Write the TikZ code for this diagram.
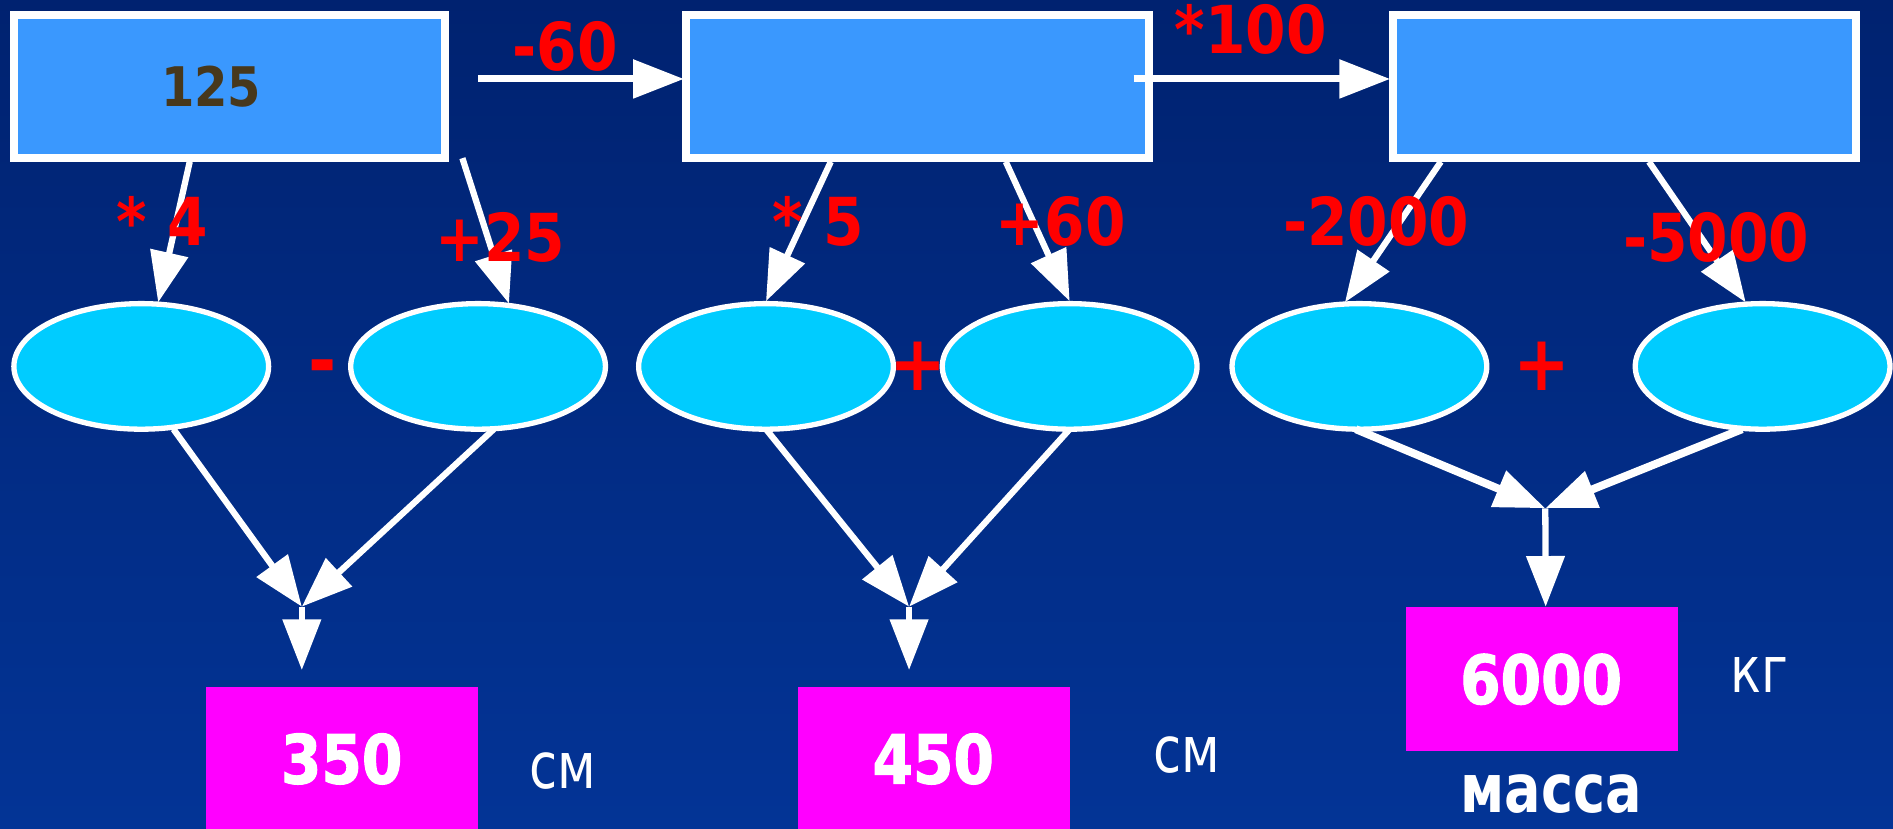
\documentclass[tikz,border=0pt]{standalone}
\usepackage{fontspec}
\setmainfont{DejaVu Sans}
\newfontfamily\numf[FakeStretch=0.88]{DejaVu Sans}
\newfontfamily\resf[FakeStretch=0.86,FakeBold=1.6]{DejaVu Sans}
\newfontfamily\unitf[FakeStretch=0.8]{DejaVu Sans}
\usetikzlibrary{arrows.meta,shapes.geometric,calc}
\definecolor{bgtop}{RGB}{0,34,112}
\definecolor{bgbot}{RGB}{3,52,150}
\definecolor{boxblue}{RGB}{58,152,254}
\definecolor{ellcyan}{RGB}{0,204,255}
\definecolor{mag}{RGB}{255,0,255}
\definecolor{brownt}{RGB}{71,56,28}
\tikzset{
  box/.style={draw=white, line width=3.3pt, fill=boxblue, minimum height=59.25pt, inner sep=0pt, outer sep=0pt},
  oval/.style={ellipse, draw=white, line width=2.2pt, fill=ellcyan, minimum width=105.5pt, minimum height=52pt, inner sep=0pt, outer sep=0pt},
  res/.style={fill=mag, inner sep=0pt, outer sep=0pt},
  lab/.style={text=red, font=\numf\bfseries\fontsize{27.4pt}{30pt}\selectfont, inner sep=0pt, anchor=base},
  op/.style={text=red, font=\numf\bfseries\fontsize{32pt}{34pt}\selectfont, inner sep=0pt},
  resnum/.style={text=white, font=\resf\bfseries\fontsize{28pt}{30pt}\selectfont, inner sep=0pt, anchor=base},
  unit/.style={text=white, font=\unitf\fontsize{26.5pt}{30pt}\selectfont, inner sep=0pt, anchor=base},
  arr/.style={draw=white, line width=2.6pt, -{Triangle[length=21pt,width=15.5pt]}},
}
\begin{document}
\begin{tikzpicture}[x=0.5pt,y=-0.5pt]
\useasboundingbox (0,0) rectangle (1568,686);
\shade[top color=bgtop, bottom color=bgbot] (0,0) rectangle (1568,686);

% top boxes
\node[box, minimum width=178.5pt] (b1) at (190,71.75) {};
\node[box, minimum width=191.75pt] (b2) at (760.25,71.75) {};
\node[box, minimum width=192pt] (b3) at (1345.5,71.75) {};
\node[text=brownt, font=\numf\bfseries\fontsize{22.6pt}{25pt}\selectfont, inner sep=0pt, anchor=base] (t125) at (175,88) {125};

% ellipses
\node[oval] (e1) at (117,303.5) {};
\node[oval] (e2) at (396,303.5) {};
\node[oval] (e3) at (634.5,303.5) {};
\node[oval] (e4) at (886,303.5) {};
\node[oval] (e5) at (1126,303.5) {};
\node[oval] (e6) at (1460,303.5) {};

% result boxes
\node[res, minimum width=112.5pt, minimum height=60.5pt] (r1) at (283.5,629.5) {};
\node[res, minimum width=112.5pt, minimum height=60.5pt] (r2) at (773.5,629.5) {};
\node[res, minimum width=112.3pt, minimum height=59.65pt] (r3) at (1277.3,562.2) {};

% free ends and merge points
\coordinate (s60) at (396,65.4);
\coordinate (s100) at (939,65.4);
\coordinate (s25) at (383,131);
\coordinate (m1) at (250,502.5);
\coordinate (m2) at (753,502.5);
\coordinate (m3) at (1280,421);
\coordinate (d1) at (250,555);
\coordinate (d2) at (753,555);

% horizontal arrows
\draw[arr, line width=2.9pt] (s60) -- ($(b2.west)+(-2,-6.35)$);
\draw[arr, line width=2.9pt] (s100) -- ($(b3.west)+(-2,-6.35)$);

% box -> ellipse arrows
\draw[arr] ($(b1.south west)!0.408!(b1.south east)+(0,3)$) -- ($(e1.north)+(14,-1)$);
\draw[arr] (s25) -- ($(e2.north)+(25.6,0)$);
\draw[arr] ($(b2.south west)!0.312!(b2.south east)+(0,3)$) -- ($(e3.north)+(0,-2)$);
\draw[arr] ($(b2.south west)!0.69!(b2.south east)+(0,3)$) -- ($(e4.north)+(0,-2)$);
\draw[arr] ($(b3.south west)!0.104!(b3.south east)+(0,3)$) -- ($(e5.north)+(-12,-1)$);
\draw[arr] ($(b3.south west)!0.553!(b3.south east)+(0,3)$) -- ($(e6.north)+(-14,-1)$);

% ellipse -> merge arrows
\draw[arr] ($(e1.south)+(26.7,0)$) -- (m1);
\draw[arr] ($(e2.south)+(13,0)$) -- (m1);
\draw[arr] (e3.south) -- (m2);
\draw[arr] (e4.south) -- (m2);
\draw[arr, line width=3.3pt] ($(e5.south)+(-3,0)$) -- (m3);
\draw[arr, line width=3.3pt] ($(e6.south)+(-17,0)$) -- (m3);

% merge -> result arrows
\draw[arr] (m1) -- (d1);
\draw[arr] (m2) -- (d2);
\draw[arr] (m3) -- ($(r3.north)+(3,0)$);

% labels
\node[lab] (l60) at (468,58) {-60};
\node[lab] (l100) at (1036,44) {*100};
\node[lab] (l4) at (134.5,203) {* 4};
\node[lab] (l25) at (414.5,217) {+25};
\node[lab] (l5) at (678,203) {* 5};
\node[lab] (l60b) at (878.5,203) {+60};
\node[lab] (l2000) at (1140,203) {-2000};
\node[lab] (l5000) at (1421.5,217) {-5000};

% operators
\node[op, anchor=base] (o1) at (267,321) {-};
\node[op] (o2) at (760,303) {+};
\node[op] (o3) at (1277,303) {+};

% result texts
\node[resnum] (n350) at (283,649) {350};
\node[resnum] (n450) at (773,649) {450};
\node[resnum] (n6000) at (1276.5,583) {6000};
\node[unit] (u1) at (466,653) {см};
\node[unit] (u2) at (983,640) {см};
\node[unit] (u3) at (1457,574) {кг};
\node[unit, font=\unitf\bfseries\fontsize{28pt}{30pt}\selectfont] (mass) at (1285,673) {масса};
\end{tikzpicture}
\end{document}
